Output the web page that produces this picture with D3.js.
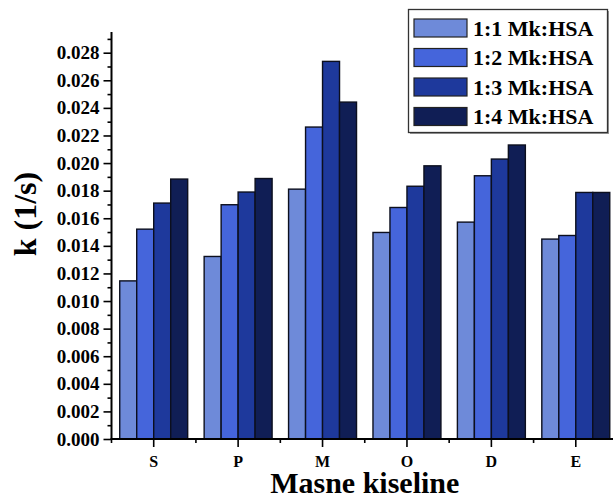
<!DOCTYPE html>
<html><head><meta charset="utf-8">
<script src="https://cdn.jsdelivr.net/npm/d3@7"></script>
<style>body{margin:0;background:#fff}svg{display:block}</style>
</head><body><svg id="c" width="613" height="497"></svg>
<script>
const categories = ["S","P","M","O","D","E"];
const seriesNames = ["1:1 Mk:HSA","1:2 Mk:HSA","1:3 Mk:HSA","1:4 Mk:HSA"];
const s11 = [0.01146,0.01323,0.01811,0.01497,0.01572,0.01449];
const s12 = [0.01521,0.01698,0.02261,0.01678,0.01908,0.01475];
const s13 = [0.01710,0.01790,0.02737,0.01832,0.02029,0.01787];
const s14 = [0.01884,0.01888,0.02442,0.01980,0.02131,0.01787];
const yTicks = [0,0.002,0.004,0.006,0.008,0.010,0.012,0.014,0.016,0.018,0.020,0.022,0.024,0.026,0.028];
const colors = ["#6E8AD9","#4565DB","#1E399C","#101E55"];
const series = [s11,s12,s13,s14];
const FONT = "Liberation Serif";

const svg = d3.select("#c");
const L=111.5, R=618, T=32, B=439;
const x = d3.scaleBand().domain(categories).range([L,R]).paddingInner(0.195).paddingOuter(0.0975);
const xc = d3.scaleBand().domain(categories).range([L,R]);
const xs = d3.scaleBand().domain(d3.range(4)).range([0,x.bandwidth()]);
const y = d3.scaleLinear().domain([0,0.0295]).range([B,T]);

function fontify(sel,size){
  sel.style("font-family",FONT).style("font-weight","bold").style("font-size",size+"px").attr("fill","#000");
  return sel;
}

// bars
categories.forEach((c,i)=>{
  series.forEach((s,j)=>{
    svg.append("rect")
      .attr("x", x(c)+xs(j)).attr("y", y(s[i]))
      .attr("width", xs.bandwidth()).attr("height", B-y(s[i]))
      .attr("fill", colors[j]).attr("stroke","#0c0f1e").attr("stroke-width",1.4);
  });
});

// y axis
const yAxis = d3.axisLeft(y).tickValues(yTicks).tickFormat(d3.format(".3f")).tickSize(8).tickPadding(4);
const gy = svg.append("g").attr("transform",`translate(${L},0)`).call(yAxis);
gy.select(".domain").remove();
fontify(gy.selectAll("text"),19);
gy.selectAll("line").attr("stroke","#000").attr("stroke-width",1.6);
const minor = d3.range(1,30,2).map(d=>d*0.001).filter(d=>d<=0.0295);
const gym = svg.append("g").attr("transform",`translate(${L},0)`).call(d3.axisLeft(y).tickValues(minor).tickFormat("").tickSize(4));
gym.select(".domain").remove();
gym.selectAll("line").attr("stroke","#000").attr("stroke-width",1.6);
svg.append("line").attr("x1",L).attr("x2",L).attr("y1",T).attr("y2",B+1).attr("stroke","#000").attr("stroke-width",2);

// x axis
const gx = svg.append("g").attr("transform",`translate(0,${B})`).call(d3.axisBottom(xc).tickSize(8).tickPadding(9));
gx.select(".domain").remove();
fontify(gx.selectAll("text"),16);
gx.selectAll("line").attr("stroke","#000").attr("stroke-width",1.6);
const bounds = categories.map(c=>xc(c));
svg.append("g").selectAll("line").data(bounds).join("line")
  .attr("x1",d=>d).attr("x2",d=>d).attr("y1",B).attr("y2",B+4).attr("stroke","#000").attr("stroke-width",1.6);
svg.append("line").attr("x1",L-1).attr("x2",613).attr("y1",B).attr("y2",B).attr("stroke","#000").attr("stroke-width",2);

// axis titles
fontify(svg.append("text").attr("x",(L+R)/2).attr("y",493).attr("text-anchor","middle").text("Masne kiseline"),30);
fontify(svg.append("text").attr("transform",`translate(36,214) rotate(-90)`).attr("text-anchor","middle").text("k (1/s)"),32);

// legend
const lg = svg.append("g");
lg.append("rect").attr("x",410).attr("y",11).attr("width",199).attr("height",123).attr("fill","#999");
lg.append("rect").attr("x",408.5).attr("y",9.5).attr("width",199).attr("height",123).attr("fill","#fff").attr("stroke","#333").attr("stroke-width",1.3);
seriesNames.forEach((n,j)=>{
  const yy = 19 + j*29.5;
  lg.append("rect").attr("x",414).attr("y",yy).attr("width",53).attr("height",18).attr("fill",colors[j]).attr("stroke","#222").attr("stroke-width",1.2);
  fontify(lg.append("text").attr("x",473).attr("y",yy+9).attr("dy","0.35em").text(n),22);
});
</script></body></html>
